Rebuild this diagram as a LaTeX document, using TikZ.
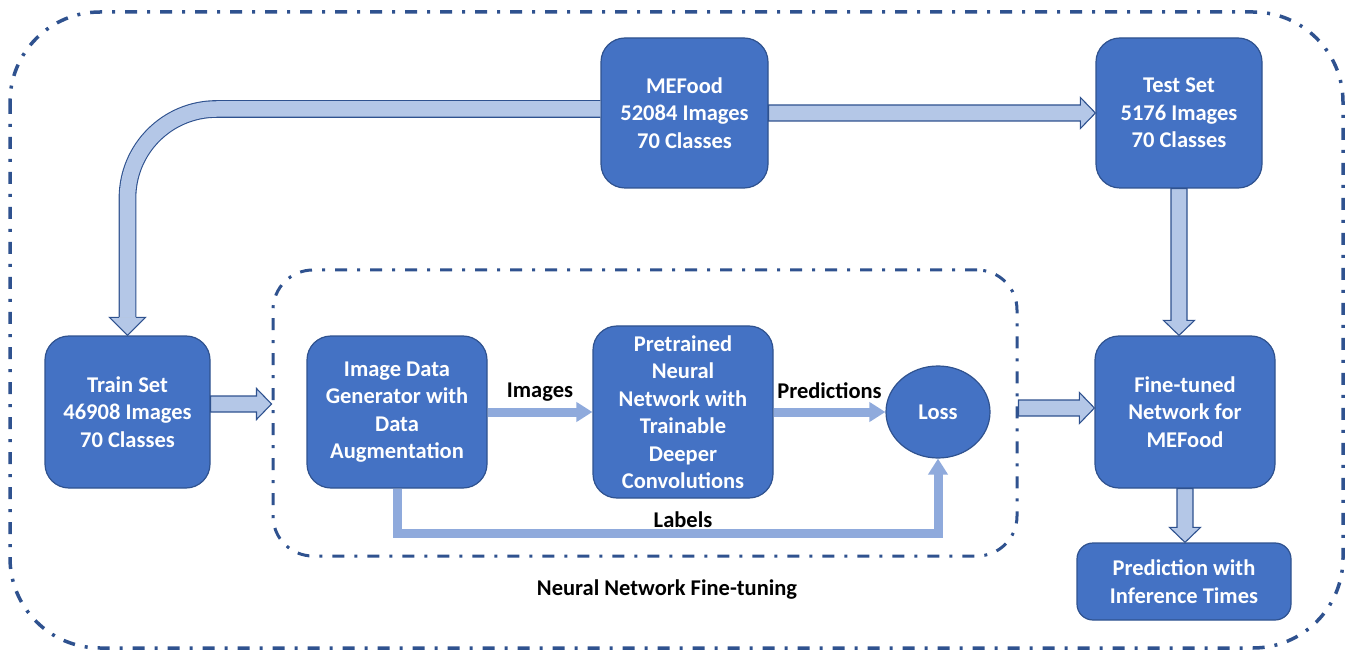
\documentclass[tikz,border=0pt]{standalone}
\usepackage{fontspec}
\setmainfont{Carlito}
\usetikzlibrary{calc,arrows.meta,positioning,shapes.geometric}
\definecolor{boxblue}{RGB}{68,114,196}
\definecolor{edgeblue}{RGB}{47,82,143}
\definecolor{bandblue}{RGB}{180,199,231}
\definecolor{flowblue}{RGB}{143,170,220}
\tikzset{>=Triangle}
\tikzset{
  block/.style={draw=edgeblue, line width=1.2pt, fill=boxblue, text=white,
    rounded corners=24pt, align=center, inner sep=0pt,
    font=\bfseries\fontsize{22.5}{27.5}\selectfont},
  bigarrow/.style={draw=edgeblue, line width=1.1pt, fill=bandblue},
  bigband/.style={draw=edgeblue, line width=1.1pt, double=bandblue, double distance=15.5pt},
  flow/.style={draw=flowblue, line width=9pt, -{Triangle[length=16pt,width=19pt]}},
  flowlabel/.style={font=\bfseries\fontsize{22.5}{27.5}\selectfont, inner sep=0pt},
  dashdot/.style={draw=edgeblue, dash pattern=on 12pt off 10pt on 3pt off 10pt}
}
% block arrow from #1 to #2 (straight)
\newcommand{\bigarrow}[2]{%
  \coordinate (hb) at ($(#2)!15pt!(#1)$);
  \draw[bigarrow] ($(#1)!8pt!90:(#2)$) -- ($(hb)!8pt!90:(#2)$) -- ($(hb)!15.5pt!90:(#2)$) -- (#2)
    -- ($(hb)!15.5pt!-90:(#2)$) -- ($(hb)!8pt!-90:(#2)$) -- ($(#1)!8pt!-90:(#2)$) -- cycle;}

\begin{document}
\begin{tikzpicture}[x=1pt,y=-1pt]
    \useasboundingbox (0,0) rectangle (1352,652);
    % frames
    \draw[dashdot, line width=3.5pt, rounded corners=90pt] (10,12) rectangle (1343,648);
    \node[dashdot, line width=3pt, rounded corners=40pt, minimum width=744pt, minimum height=286pt] (tune) at (645,413) {};
    \node[flowlabel] (tunecap) at (667,590) {Neural Network Fine-tuning};
    % boxes
    \node[block, minimum width=167pt, minimum height=150pt] (mefood) at (684.5,113) {MEFood\\52084 Images\\70 Classes};
    \node[block, minimum width=166pt, minimum height=150pt] (test) at (1179,113) {Test Set\\5176 Images\\70 Classes};
    \node[block, minimum width=165pt, minimum height=152pt] (train) at (127.5,412) {Train Set\\46908 Images\\70 Classes};
    \node[block, minimum width=180pt, minimum height=152pt] (gen) at (397,412) {Image Data\\Generator with\\Data\\Augmentation};
    \node[block, minimum width=180pt, minimum height=172pt] (pre) at (683,412) {Pretrained\\Neural\\Network with\\Trainable\\Deeper\\Convolutions};
    \node[block, ellipse, minimum width=104pt, minimum height=92pt] (loss) at (938,412) {Loss};
    \node[block, minimum width=180pt, minimum height=152pt] (fine) at (1185,412) {Fine-tuned\\Network for\\MEFood};
    \node[block, rounded corners=16pt, minimum width=214pt, minimum height=77pt] (pred) at (1184,581.5) {Prediction with\\Inference Times};
    % big arrows
    \bigarrow{mefood.east}{test.west}
    \coordinate (cb) at ($(train.north)+(0,-18)$);
    \draw[bigband, rounded corners=89pt] ([yshift=4pt]mefood.west) -| (cb);
    \filldraw[bigarrow] ($(cb)+(-8.3,0)$) -- ($(cb)+(-18,0)$) -- (train.north) -- ($(cb)+(18,0)$) -- ($(cb)+(8.3,0)$);
    \bigarrow{test.south}{test.south |- fine.north}
    \coordinate (a1) at ([yshift=8pt]train.east);
    \bigarrow{a1}{a1 -| tune.west}
    \coordinate (a2) at ([yshift=5pt]tune.east);
    \bigarrow{a2}{a2 -| fine.west}
    \bigarrow{fine.south}{fine.south |- pred.north}
    % data flow
    \draw[flow] (gen) -- (pre) node[flowlabel, midway, above=6pt] {Images};
    \draw[flow] (pre) -- (loss) node[flowlabel, midway, above=9pt] {Predictions};
    \draw[flow] (gen.south) -- ++(0,45) -| (loss.south);
    \node[flowlabel] (labels) at ($(pre.south)+(0,21)$) {Labels};
\end{tikzpicture}
\end{document}
